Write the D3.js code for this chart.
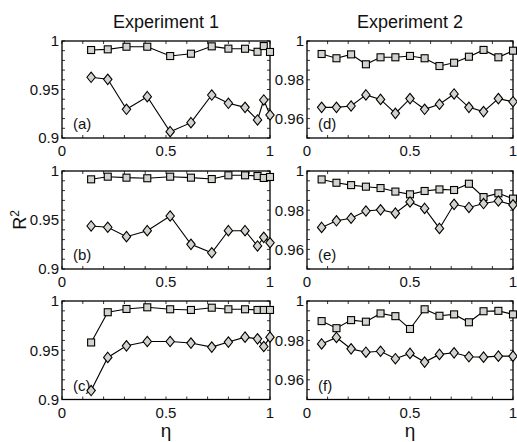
<!DOCTYPE html>
<html><head><meta charset="utf-8">
<script src="https://cdn.jsdelivr.net/npm/d3@7"></script>
<style>body{margin:0;background:#fff}svg{display:block}text{font-family:"Liberation Sans",Arial,sans-serif;fill:#111}</style>
</head><body><div id="chart"></div>
<script>
// ---- data ----
const titles = ["Experiment 1", "Experiment 2"];
const panelLabels = [["(a)","(b)","(c)"],["(d)","(e)","(f)"]];
const etaExp1 = [0.14,0.22,0.31,0.41,0.52,0.62,0.72,0.80,0.88,0.94,0.97,1.0];
const etaExp2 = [0.071,0.143,0.214,0.286,0.357,0.429,0.5,0.571,0.643,0.714,0.786,0.857,0.929,1.0];

const aSquares = [0.9907,0.9914,0.9941,0.9941,0.9845,0.9869,0.9945,0.9921,0.9920,0.9889,0.9948,0.9887];
const aDiamonds = [0.9626,0.9605,0.9296,0.9426,0.9065,0.9158,0.9443,0.9358,0.9316,0.9186,0.9392,0.9237];
const bSquares = [0.9915,0.9942,0.9932,0.9926,0.9942,0.9932,0.9918,0.9956,0.9956,0.9949,0.9929,0.9939];
const bDiamonds = [0.9439,0.9426,0.9330,0.9391,0.9541,0.9252,0.9166,0.9391,0.9391,0.9235,0.9323,0.9268];
const cSquares = [0.9579,0.9886,0.9919,0.9936,0.9916,0.9909,0.9932,0.9916,0.9916,0.9909,0.9909,0.9909];
const cDiamonds = [0.9091,0.9427,0.9545,0.9589,0.9589,0.9573,0.9532,0.9583,0.9633,0.9616,0.9538,0.9633];

const dSquares = [0.9933,0.9911,0.9931,0.9880,0.9916,0.9916,0.9923,0.9911,0.9871,0.9888,0.9919,0.9954,0.9916,0.9950];
const dDiamonds = [0.9658,0.9658,0.9665,0.9722,0.9699,0.9627,0.9703,0.9648,0.9674,0.9727,0.9658,0.9636,0.9703,0.9687];
const eSquares = [0.9957,0.9940,0.9928,0.9920,0.9913,0.9895,0.9881,0.9898,0.9906,0.9903,0.9935,0.9867,0.9886,0.9859];
const eDiamonds = [0.9712,0.9746,0.9759,0.9796,0.9802,0.9785,0.9842,0.9809,0.9707,0.9830,0.9814,0.9834,0.9847,0.9827];
const fSquares = [0.9898,0.9862,0.9903,0.9895,0.9937,0.9923,0.9858,0.9958,0.9925,0.9932,0.9892,0.9948,0.9950,0.9932];
const fDiamonds = [0.9782,0.9815,0.9757,0.9740,0.9745,0.9707,0.9734,0.9690,0.9729,0.9737,0.9717,0.9715,0.9720,0.9720];

const xTicks = [0, 0.5, 1];
const xTickLabels = ["0", "0.5", "1"];
const yTicksExp1 = [0.9, 0.95, 1];
const yTickLabelsExp1 = ["0.9", "0.95", "1"];
const yTicksExp2 = [0.96, 0.98, 1];
const yTickLabelsExp2 = ["0.96", "0.98", "1"];
const yDomainExp1 = [0.9, 1];
const yDomainExp2 = [0.95, 1];

// ---- layout ----
const W = 517, H = 442;
const cols = [[62, 270], [307, 513]];
const rows = [[41, 138], [171, 269], [301, 399.5]];
const fillC = "#d3d3cd";

const svg = d3.select("#chart").append("svg").attr("width", W).attr("height", H);

const panels = [
  {c:0, r:0, eta:etaExp1, sq:aSquares, di:aDiamonds},
  {c:0, r:1, eta:etaExp1, sq:bSquares, di:bDiamonds},
  {c:0, r:2, eta:etaExp1, sq:cSquares, di:cDiamonds},
  {c:1, r:0, eta:etaExp2, sq:dSquares, di:dDiamonds},
  {c:1, r:1, eta:etaExp2, sq:eSquares, di:eDiamonds},
  {c:1, r:2, eta:etaExp2, sq:fSquares, di:fDiamonds}
];

panels.forEach(p => {
  const [x0, x1] = cols[p.c];
  const [y0, y1] = rows[p.r];
  const x = d3.scaleLinear().domain([0, 1]).range([x0, x1]);
  const yDom = p.c === 0 ? yDomainExp1 : yDomainExp2;
  const y = d3.scaleLinear().domain(yDom).range([y1, y0]);
  const yt = p.c === 0 ? yTicksExp1 : yTicksExp2;
  const ytl = p.c === 0 ? yTickLabelsExp1 : yTickLabelsExp2;
  const g = svg.append("g");

  // minor inner ticks
  const xMinor = d3.range(0, 1.0001, 0.1);
  const yStep = p.c === 0 ? 0.01 : 0.005;
  const yMinor = d3.range(yDom[0], yDom[1] + 1e-9, yStep);
  const tk = g.append("g").attr("stroke", "#000").attr("stroke-width", 0.8);
  xMinor.forEach(v => {
    tk.append("line").attr("x1", x(v)).attr("x2", x(v)).attr("y1", y1).attr("y2", y1 - 3);
    tk.append("line").attr("x1", x(v)).attr("x2", x(v)).attr("y1", y0).attr("y2", y0 + 3);
  });
  yMinor.forEach(v => {
    tk.append("line").attr("x1", x0).attr("x2", x0 + 3).attr("y1", y(v)).attr("y2", y(v));
    tk.append("line").attr("x1", x1).attr("x2", x1 - 3).attr("y1", y(v)).attr("y2", y(v));
  });

  // box
  g.append("rect").attr("x", x0).attr("y", y0).attr("width", x1 - x0).attr("height", y1 - y0)
    .attr("fill", "none").attr("stroke", "#000").attr("stroke-width", 1.3);

  // tick labels
  xTicks.forEach((v, i) => {
    g.append("text").attr("x", x(v)).attr("y", y1 + 18).attr("text-anchor", "middle")
      .attr("font-size", 15).text(xTickLabels[i]);
  });
  yt.forEach((v, i) => {
    g.append("text").attr("x", x0 - 3).attr("y", y(v)).attr("dy", "0.36em").attr("text-anchor", "end")
      .attr("font-size", 15).text(ytl[i]);
  });

  // panel label
  g.append("text").attr("x", x0 + 11).attr("y", y1 - 9).attr("font-size", 15).text(panelLabels[p.c][p.r]);

  const line = d3.line().x(d => x(d[0])).y(d => y(d[1]));
  const sqData = p.eta.map((e, i) => [e, p.sq[i]]);
  const diData = p.eta.map((e, i) => [e, p.di[i]]);

  [sqData, diData].forEach(data => {
    g.append("path").datum(data).attr("d", line).attr("fill", "none").attr("stroke", "#000").attr("stroke-width", 1.1);
  });

  const s = 7;
  g.selectAll(".sq").data(sqData).enter().append("rect")
    .attr("x", d => x(d[0]) - s / 2).attr("y", d => y(d[1]) - s / 2)
    .attr("width", s).attr("height", s)
    .attr("fill", fillC).attr("stroke", "#000").attr("stroke-width", 1.1);

  const dw = 4.2, dh = 5.2;
  g.selectAll(".di").data(diData).enter().append("path")
    .attr("d", d => {
      const cx = x(d[0]), cy = y(d[1]);
      return `M${cx},${cy - dh}L${cx + dw},${cy}L${cx},${cy + dh}L${cx - dw},${cy}Z`;
    })
    .attr("fill", fillC).attr("stroke", "#000").attr("stroke-width", 1.1);
});

// titles
cols.forEach((c, i) => {
  svg.append("text").attr("x", (c[0] + c[1]) / 2).attr("y", 28).attr("text-anchor", "middle")
    .attr("font-size", 18).text(titles[i]);
  svg.append("text").attr("x", (c[0] + c[1]) / 2).attr("y", 437).attr("text-anchor", "middle")
    .attr("font-size", 19).text("η");
});

// y label R²
const yl = svg.append("text").attr("transform", "translate(26,220) rotate(-90)")
  .attr("text-anchor", "middle").attr("font-size", 18);
yl.append("tspan").text("R");
yl.append("tspan").attr("font-size", 12).attr("dy", -7).text("2");
</script></body></html>
